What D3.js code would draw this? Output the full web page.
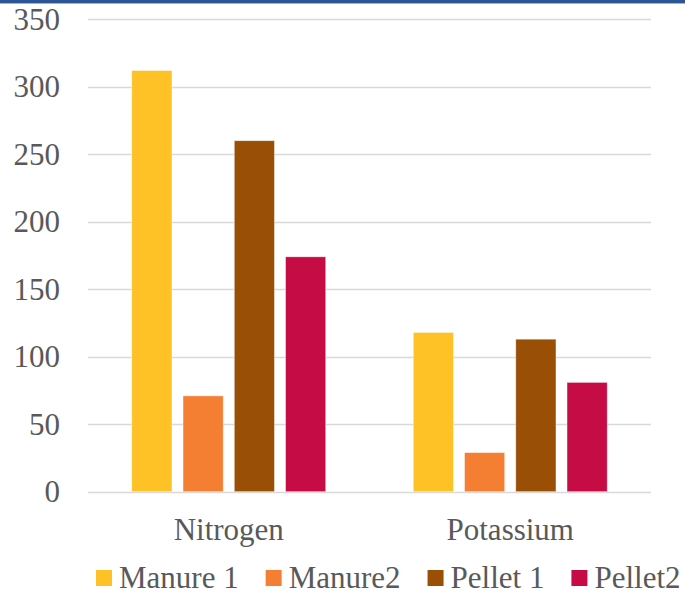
<!DOCTYPE html>
<html>
<head>
<meta charset="utf-8">
<script src="https://cdn.jsdelivr.net/npm/d3@7/dist/d3.min.js"></script>
<style>
  html, body { margin: 0; padding: 0; background: #fff; }
  svg { display: block; }
  text { font-family: "Liberation Serif", "Times New Roman", serif; fill: #595959; }
</style>
</head>
<body>
<svg id="chart" width="685" height="592"></svg>
<script>
// Nutrient content by fertiliser source
const categories = ["Nitrogen", "Potassium"];
const seriesNames = ["Manure 1", "Manure2", "Pellet 1", "Pellet2"];
const manure1 = [312, 118];
const manure2 = [71, 29];
const pellet1 = [260, 113];
const pellet2 = [174, 81];
const yTicks = [0, 50, 100, 150, 200, 250, 300, 350];
const colors = ["#FEC126", "#F47F33", "#9A4F07", "#C50C45"];

const seriesValues = [manure1, manure2, pellet1, pellet2];
const rows = categories.map((c, i) => ({
  category: c,
  values: seriesNames.map((s, j) => ({ series: s, value: seriesValues[j][i], color: colors[j] }))
}));

const svg = d3.select("#chart");
const plotLeft = 88, plotRight = 651, plotTop = 19.2, plotBottom = 491.7;

// header rule
svg.append("rect").attr("x", 0).attr("y", 0).attr("width", 685).attr("height", 3).attr("fill", "#2C5596");
svg.append("rect").attr("x", 0).attr("y", 3).attr("width", 685).attr("height", 1).attr("fill", "#9FB3D3");

const y = d3.scaleLinear().domain([0, 350]).range([plotBottom, plotTop]);
const x0 = d3.scaleBand().domain(categories).range([plotLeft, plotRight]).paddingInner(0).paddingOuter(0);
const groupWidth = 194;
const x1 = d3.scaleBand().domain(seriesNames).range([0, groupWidth]).paddingInner(0.215).paddingOuter(0);

// gridlines
svg.append("g").selectAll("line").data(yTicks).join("line")
  .attr("x1", plotLeft).attr("x2", plotRight)
  .attr("y1", d => Math.round(y(d)) + 0.5).attr("y2", d => Math.round(y(d)) + 0.5)
  .attr("stroke", "#D9D9D9").attr("stroke-width", 1.3);

// y axis labels
const yAxis = d3.axisLeft(y).tickValues(yTicks).tickSize(0).tickPadding(0).tickFormat(d3.format("d"));
const yg = svg.append("g").attr("transform", `translate(60,0)`).call(yAxis);
yg.select(".domain").remove();
yg.selectAll("text").attr("font-size", 31).attr("fill", "#595959")
  .attr("font-family", "Liberation Serif, serif").attr("dy", "0.33em");

// bars
const groups = svg.append("g").selectAll("g").data(rows).join("g")
  .attr("transform", d => `translate(${x0(d.category) + x0.bandwidth() / 2 - groupWidth / 2},0)`);
groups.selectAll("rect").data(d => d.values).join("rect")
  .attr("x", d => x1(d.series))
  .attr("width", x1.bandwidth())
  .attr("y", d => y(d.value))
  .attr("height", d => y(0) - y(d.value))
  .attr("fill", d => d.color)
  .attr("stroke", "#ffffff").attr("stroke-width", 0.75).attr("stroke-opacity", 0.6);

// category labels
const xAxis = d3.axisBottom(x0).tickSize(0).tickPadding(0);
const xg = svg.append("g").attr("transform", `translate(0,540)`).call(xAxis);
xg.select(".domain").remove();
xg.selectAll("text").attr("font-size", 31).attr("fill", "#595959")
  .attr("font-family", "Liberation Serif, serif").attr("dy", 0).attr("y", 0);

// legend
const legend = svg.append("g").attr("transform", "translate(96,570)");
let cursor = 0;
seriesNames.forEach((name, i) => {
  const item = legend.append("g").attr("transform", `translate(${cursor},0)`);
  item.append("rect").attr("width", 16).attr("height", 16).attr("fill", colors[i]);
  const t = item.append("text").attr("x", 23).attr("y", 18).attr("font-size", 31).text(name);
  cursor += 23 + t.node().getComputedTextLength() + 27;
});
</script>
</body>
</html>
